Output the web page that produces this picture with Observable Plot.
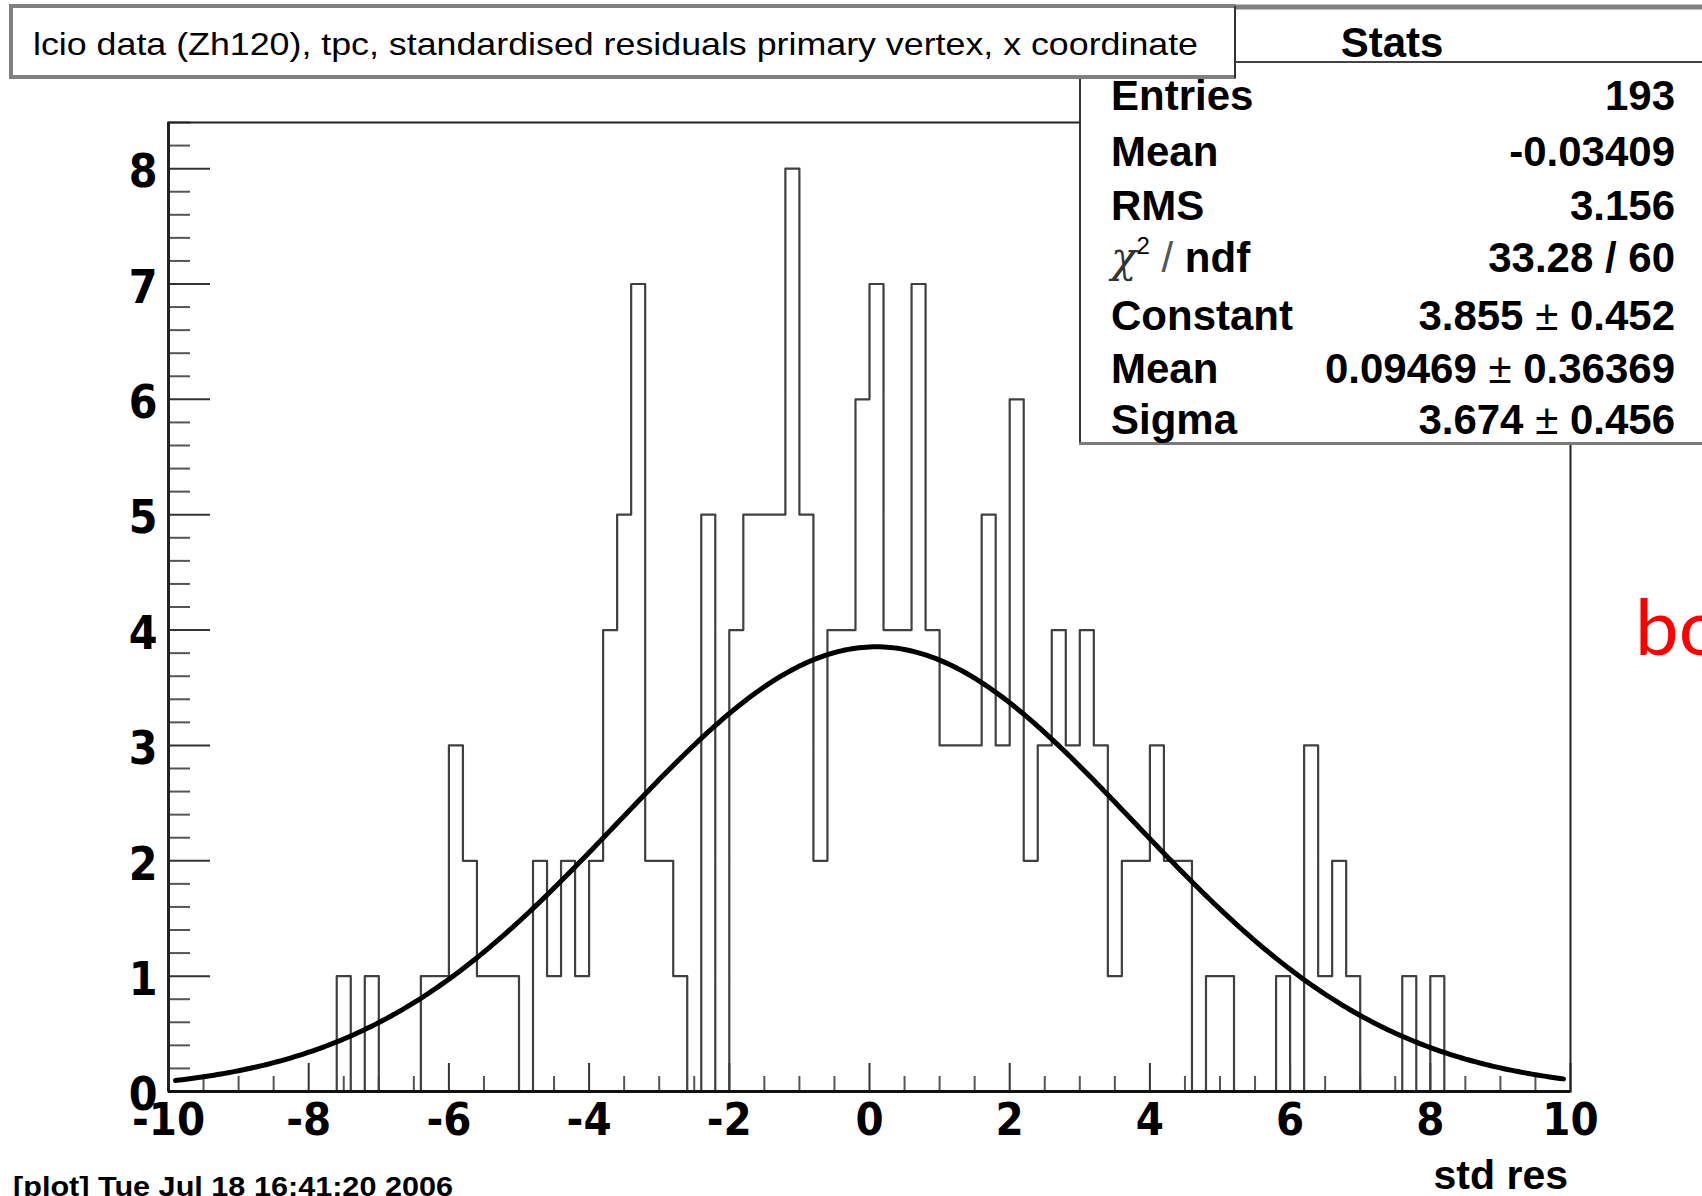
<!DOCTYPE html>
<html>
<head>
<meta charset="utf-8">
<script src="https://cdn.jsdelivr.net/npm/d3@7"></script>
<script src="https://cdn.jsdelivr.net/npm/@observablehq/plot@0.6"></script>
<style>
html, body { margin: 0; padding: 0; background: #fff; }
#wrap { position: relative; width: 1702px; height: 1196px; overflow: hidden; background: #fff; }
#wrap > svg { position: absolute; left: 0; top: 0; }
</style>
</head>
<body>
<div id="wrap"></div>
<script>
// ---- data ----
const xMin = -10, xMax = 10;
const binCounts = [
  0,0,0,0,0,0,0,0,0,0,
  0,0,1,0,1,0,0,0,1,1,
  3,2,1,1,1,0,2,1,2,1,
  2,4,5,7,2,2,1,0,5,0,
  4,5,5,5,8,5,2,4,4,6,
  7,4,4,7,4,3,3,3,5,3,
  6,2,3,4,3,4,3,1,2,2,
  3,2,2,0,1,1,0,0,0,1,
  0,3,1,2,1,0,0,0,1,0,
  1,0,0,0,0,0,0,0,0,0
];
const fitConstant = 3.855, fitMean = 0.09469, fitSigma = 3.674;
const fitRange = [-9.9, 9.9];
const xTickLabels = [-10, -8, -6, -4, -2, 0, 2, 4, 6, 8, 10];
const xMinorStep = 0.5;
const yTickLabels = [0, 1, 2, 3, 4, 5, 6, 7, 8];
const yMinorStep = 0.2;
const yMax = 8.4;

const titleText = "lcio data (Zh120), tpc, standardised residuals primary vertex, x coordinate";
const xAxisTitle = "std res";
const dateText = "[plot] Tue Jul 18 16:41:20 2006";
const statsTitle = "Stats";
const statsLabels = ["Entries", "Mean", "RMS", "chi2ndf", "Constant", "Mean", "Sigma"];
const statsValues = ["193", "-0.03409", "3.156", "33.28 / 60", "3.855 \u00b1 0.452", "0.09469 \u00b1 0.36369", "3.674 \u00b1 0.456"];
const sideNote = "bo";

// ---- derived tables ----
const binWidth = (xMax - xMin) / binCounts.length;
const histPoints = binCounts.map((c, i) => ({x: xMin + i * binWidth, y: c}));
histPoints.push({x: xMax, y: 0});
const fitPoints = d3.range(fitRange[0], fitRange[1] + 1e-9, 0.05).map(x => ({
  x, y: fitConstant * Math.exp(-0.5 * ((x - fitMean) / fitSigma) ** 2)
}));
const xMinor = d3.range(xMin, xMax + 1e-9, xMinorStep).filter(v => !xTickLabels.includes(Math.round(v * 100) / 100));
const yMinor = d3.range(0, yMax + 1e-9, yMinorStep).map(v => Math.round(v * 10) / 10).filter(v => !yTickLabels.includes(v));

const narrow = "'Liberation Sans Narrow', 'DejaVu Sans Condensed', 'Liberation Sans', Arial, sans-serif";
const sans = "'Liberation Sans', Arial, Helvetica, sans-serif";

const chart = Plot.plot({
  width: 1702,
  height: 1196,
  marginLeft: 168,
  marginRight: 132,
  marginTop: 122,
  marginBottom: 105,
  x: {domain: [xMin, xMax]},
  y: {domain: [0, yMax]},
  style: {background: "transparent", fontFamily: sans, color: "#222"},
  marks: [
    Plot.axisY({ticks: yMinor, tickSize: -22, fill: "none", label: null, stroke: "#555", strokeWidth: 2}),
    Plot.axisY({ticks: yTickLabels, tickSize: -42, fill: "none", label: null, stroke: "#333", strokeWidth: 2}),
    Plot.axisY({ticks: yTickLabels, tickSize: 0, tickPadding: 11, dy: 4, tickFormat: d => String(d), label: null,
      fontSize: 46, fontWeight: "bold", fontFamily: narrow, fill: "#000"}),
    Plot.axisX({ticks: xMinor, tickSize: -15, fill: "none", label: null, stroke: "#555", strokeWidth: 2}),
    Plot.axisX({ticks: xTickLabels, tickSize: -28, fill: "none", label: null, stroke: "#333", strokeWidth: 2}),
    Plot.axisX({ticks: xTickLabels, tickSize: 0, tickPadding: 12, tickFormat: d => String(d), label: null,
      fontSize: 45, fontWeight: "bold", fontFamily: narrow, fill: "#000"}),
    Plot.line(histPoints, {x: "x", y: "y", curve: "step-after", stroke: "#404040", strokeWidth: 2.2}),
    Plot.line(fitPoints, {x: "x", y: "y", stroke: "#000", strokeWidth: 5}),
    Plot.frame({stroke: "#222", strokeWidth: 2}),
    Plot.ruleX([xMin], {stroke: "#222", strokeWidth: 3}),
    Plot.ruleY([0], {stroke: "#111", strokeWidth: 3})
  ]
});
document.getElementById("wrap").appendChild(chart);

// ---- overlays: stats box, title box, texts ----
const ov = d3.select("#wrap").append("svg")
  .attr("width", 1702).attr("height", 1196)
  .style("pointer-events", "none");

// stats box
ov.append("rect").attr("x", 1080).attr("y", 6).attr("width", 640).attr("height", 438).attr("fill", "#fff");
ov.append("line").attr("x1", 1079).attr("x2", 1702).attr("y1", 7).attr("y2", 7).attr("stroke", "#808080").attr("stroke-width", 5);
ov.append("line").attr("x1", 1080).attr("x2", 1080).attr("y1", 6).attr("y2", 445).attr("stroke", "#333").attr("stroke-width", 2);
ov.append("line").attr("x1", 1079).attr("x2", 1702).attr("y1", 443.5).attr("y2", 443.5).attr("stroke", "#7a7a7a").attr("stroke-width", 3);
ov.append("line").attr("x1", 1079).attr("x2", 1702).attr("y1", 62).attr("y2", 62).attr("stroke", "#444").attr("stroke-width", 2);
ov.append("text").attr("x", 1392).attr("y", 57).attr("text-anchor", "middle")
  .attr("font-family", sans).attr("font-weight", "bold").attr("font-size", 42).text(statsTitle);

const rowY = [110, 166, 220, 272, 330, 383, 434];
statsLabels.forEach((lab, i) => {
  const t = ov.append("text").attr("x", 1111).attr("y", rowY[i])
    .attr("font-family", sans).attr("font-weight", "bold").attr("font-size", 42).attr("fill", "#000");
  if (lab === "chi2ndf") {
    t.append("tspan").attr("font-style", "italic").attr("font-weight", "normal").attr("fill", "#333").attr("font-family", "'DejaVu Serif', serif").text("\u03c7");
    t.append("tspan").attr("font-weight", "normal").attr("font-size", 24).attr("dy", -18).text("2");
    t.append("tspan").attr("font-weight", "normal").attr("fill", "#555").attr("dy", 18).text(" / ");
    t.append("tspan").text("ndf");
  } else {
    t.text(lab);
  }
  const v = ov.append("text").attr("x", 1675).attr("y", rowY[i]).attr("text-anchor", "end")
    .attr("font-family", sans).attr("font-weight", "bold").attr("font-size", 42).attr("fill", "#000");
  const parts = statsValues[i].split(" \u00b1 ");
  if (parts.length === 2) {
    v.append("tspan").text(parts[0] + " ");
    v.append("tspan").attr("font-weight", "normal").text("\u00b1");
    v.append("tspan").text(" " + parts[1]);
  } else {
    v.text(statsValues[i]);
  }
});

// title box
ov.append("rect").attr("x", 11).attr("y", 6).attr("width", 1224).attr("height", 71).attr("fill", "#fff");
ov.append("line").attr("x1", 9).attr("x2", 1236).attr("y1", 6).attr("y2", 6).attr("stroke", "#808080").attr("stroke-width", 4);
ov.append("line").attr("x1", 11).attr("x2", 11).attr("y1", 6).attr("y2", 78).attr("stroke", "#808080").attr("stroke-width", 4);
ov.append("line").attr("x1", 9).attr("x2", 1236).attr("y1", 77).attr("y2", 77).attr("stroke", "#808080").attr("stroke-width", 4);
ov.append("line").attr("x1", 1235).attr("x2", 1235).attr("y1", 6).attr("y2", 78).attr("stroke", "#333").attr("stroke-width", 2);
ov.append("text").attr("x", 33).attr("y", 55)
  .attr("font-family", sans).attr("font-size", 32).attr("fill", "#000")
  .attr("textLength", 1165).attr("lengthAdjust", "spacingAndGlyphs").text(titleText);

// axis title
ov.append("text").attr("x", 1568).attr("y", 1189).attr("text-anchor", "end")
  .attr("font-family", sans).attr("font-weight", "bold").attr("font-size", 41).attr("fill", "#000").text(xAxisTitle);

// date stamp
ov.append("text").attr("x", 13).attr("y", 1196)
  .attr("font-family", sans).attr("font-weight", "bold").attr("font-size", 28).attr("fill", "#000")
  .attr("textLength", 440).attr("lengthAdjust", "spacingAndGlyphs").text(dateText);

// red side note
ov.append("text").attr("x", 1635).attr("y", 655)
  .attr("font-family", "Lato, 'Noto Sans', sans-serif").attr("font-size", 78).attr("fill", "#ff0000").text(sideNote);
</script>
</body>
</html>
